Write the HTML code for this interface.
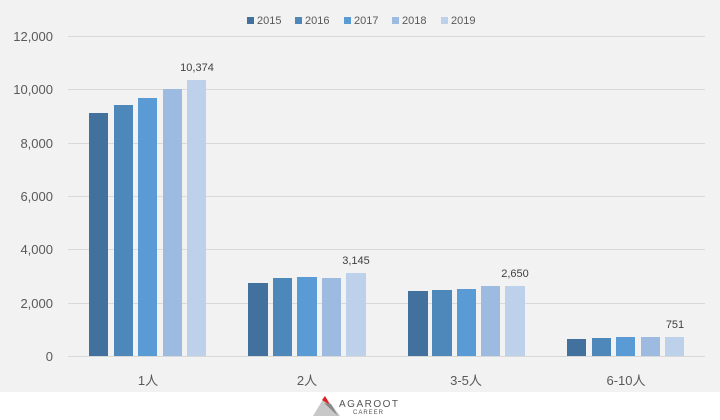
<!DOCTYPE html>
<html><head><meta charset="utf-8"><style>body{margin:0}svg{display:block}</style></head><body>
<svg width="720" height="420" xmlns="http://www.w3.org/2000/svg" font-family="Liberation Sans, Noto Sans CJK JP, sans-serif">
<rect width="720" height="420" fill="#fff"/>
<rect width="720" height="392" fill="#f2f2f2"/>
<g stroke="#d9d9d9" stroke-width="1">
<line x1="68" x2="705" y1="36.5" y2="36.5"/><line x1="68" x2="705" y1="89.5" y2="89.5"/><line x1="68" x2="705" y1="143.5" y2="143.5"/><line x1="68" x2="705" y1="196.5" y2="196.5"/><line x1="68" x2="705" y1="249.5" y2="249.5"/><line x1="68" x2="705" y1="303.5" y2="303.5"/><line x1="68" x2="705" y1="356.5" y2="356.5"/>
</g>
<g fill="#595959" font-size="13" text-anchor="end">
<text x="53" y="41">12,000</text><text x="53" y="94">10,000</text><text x="53" y="148">8,000</text><text x="53" y="201">6,000</text><text x="53" y="254">4,000</text><text x="53" y="308">2,000</text><text x="53" y="361">0</text>
</g>
<g>
<rect x="89" y="113" width="19" height="243" fill="#41719c"/><rect x="114" y="105" width="19" height="251" fill="#4e88bb"/><rect x="138" y="98" width="19" height="258" fill="#5b9bd5"/><rect x="163" y="89" width="19" height="267" fill="#9dbbe0"/><rect x="187" y="80" width="19" height="276" fill="#bdd1ea"/>
<rect x="248" y="283" width="20" height="73" fill="#41719c"/><rect x="273" y="278" width="19" height="78" fill="#4e88bb"/><rect x="297" y="277" width="20" height="79" fill="#5b9bd5"/><rect x="322" y="278" width="19" height="78" fill="#9dbbe0"/><rect x="346" y="273" width="20" height="83" fill="#bdd1ea"/>
<rect x="408" y="291" width="20" height="65" fill="#41719c"/><rect x="432" y="290" width="20" height="66" fill="#4e88bb"/><rect x="457" y="289" width="19" height="67" fill="#5b9bd5"/><rect x="481" y="286" width="19" height="70" fill="#9dbbe0"/><rect x="505" y="286" width="20" height="70" fill="#bdd1ea"/>
<rect x="567" y="339" width="19" height="17" fill="#41719c"/><rect x="592" y="338" width="19" height="18" fill="#4e88bb"/><rect x="616" y="337" width="19" height="19" fill="#5b9bd5"/><rect x="641" y="337" width="19" height="19" fill="#9dbbe0"/><rect x="665" y="337" width="19" height="19" fill="#bdd1ea"/>
</g>
<g fill="#404040" font-size="11" text-anchor="middle">
<text x="197" y="71">10,374</text><text x="356" y="264">3,145</text><text x="515" y="277">2,650</text><text x="675" y="328">751</text>
</g>
<g fill="#595959" font-size="13" text-anchor="middle">
<text x="148" y="385">1人</text><text x="307" y="385">2人</text><text x="466" y="385">3-5人</text><text x="626" y="385">6-10人</text>
</g>
<g font-size="11" fill="#595959">
<rect x="247" y="17" width="7" height="7" fill="#41719c"/><text x="257" y="24">2015</text>
<rect x="295" y="17" width="7" height="7" fill="#4e88bb"/><text x="305" y="24">2016</text>
<rect x="344" y="17" width="7" height="7" fill="#5b9bd5"/><text x="354" y="24">2017</text>
<rect x="392" y="17" width="7" height="7" fill="#9dbbe0"/><text x="402" y="24">2018</text>
<rect x="441" y="17" width="7" height="7" fill="#bdd1ea"/><text x="451" y="24">2019</text>
</g>
<polygon points="313,416 325,396 340,416" fill="#c8c8c8"/>
<polygon points="322,400 325,396 330,405" fill="#e02020"/>
<polygon points="324,403 331,404 338,416" fill="#888"/>
<text x="339" y="407" font-size="10" fill="#555" letter-spacing="1.5">AGAROOT</text>
<text x="353" y="414" font-size="6" fill="#555" letter-spacing="1">CAREER</text>
</svg>
</body></html>
